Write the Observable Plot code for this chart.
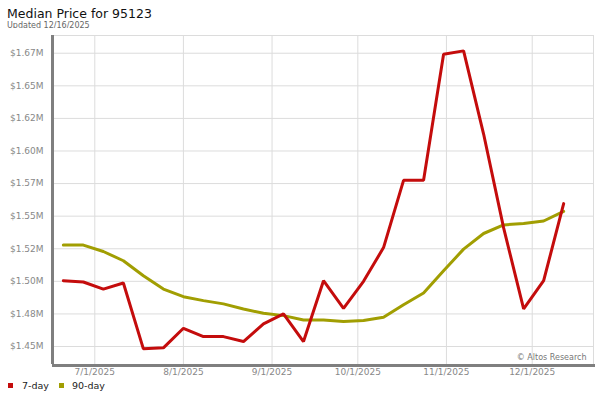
<!DOCTYPE html>
<html><head><meta charset="utf-8">
<script src="https://cdn.jsdelivr.net/npm/d3@7"></script>
<script src="https://cdn.jsdelivr.net/npm/@observablehq/plot@0.6"></script>
<style>
body{margin:0;background:#fff;font-family:"DejaVu Sans",sans-serif;width:600px;height:400px;overflow:hidden;position:relative}
#title{position:absolute;left:7px;top:8px;font-size:12.5px;line-height:12.5px;color:#111;white-space:nowrap}
#sub{position:absolute;left:7px;top:22px;font-size:8px;line-height:8px;color:#666;white-space:nowrap}
#chart{position:absolute;left:0;top:28px}
#legend{position:absolute;left:0;top:380px;width:600px;height:14px;font-size:9.5px;color:#222}
.sw{position:absolute;top:3px;width:5px;height:5px}
.lb{position:absolute;top:0;line-height:12px;white-space:nowrap}
</style></head>
<body>
<div id="title">Median Price for 95123</div>
<div id="sub">Updated 12/16/2025</div>
<div id="chart"></div>
<div id="legend"></div>
<script>
const dates = ["2025-06-20","2025-06-27","2025-07-04","2025-07-11","2025-07-18","2025-07-25",
  "2025-08-01","2025-08-08","2025-08-15","2025-08-22","2025-08-29","2025-09-05","2025-09-12",
  "2025-09-19","2025-09-26","2025-10-03","2025-10-10","2025-10-17","2025-10-24","2025-10-31",
  "2025-11-07","2025-11-14","2025-11-21","2025-11-28","2025-12-05","2025-12-12"];
const sevenDay = [1500500,1499500,1494000,1498700,1448200,1449000,1464000,1457600,1457600,1453800,
  1467400,1475000,1453800,1500500,1479300,1500000,1525900,1577500,1577500,1674200,1676800,
  1613000,1541000,1478800,1500500,1559600];
const ninetyDay = [1527800,1527800,1522900,1515800,1504300,1494100,1488200,1485200,1482700,1478800,
  1475500,1473700,1470400,1470400,1469100,1469900,1472400,1482100,1491100,1508100,1524700,
  1536700,1543300,1544300,1546300,1553700];
const seriesNames = ["7-day","90-day"];
const seriesColors = ["#c40c0c","#a19e02"];
const xTicks = ["2025-07-01","2025-08-01","2025-09-01","2025-10-01","2025-11-01","2025-12-01"];
const yTicks = [1450000,1475000,1500000,1525000,1550000,1575000,1600000,1625000,1650000,1675000];
const yTickLabels = ["$1.45M","$1.48M","$1.50M","$1.52M","$1.55M","$1.57M","$1.60M","$1.62M","$1.65M","$1.67M"];
const watermark = "© Altos Research";

const rows = dates.map((d,i)=>({date:new Date(d), seven:sevenDay[i], ninety:ninetyDay[i]}));
const xDomain = [new Date("2025-06-16T05:00:00Z"), new Date("2025-12-22T10:30:00Z")];
const yDomain = [1436200, 1688600];
const yLabelMap = new Map(yTicks.map((v,i)=>[v,yTickLabels[i]]));
const fmt = d3.utcFormat("%-m/%-d/%Y");

const chart = Plot.plot({
  width: 600, height: 352,
  marginTop: 7, marginBottom: 16, marginLeft: 52, marginRight: 7,
  style: {fontFamily: "DejaVu Sans, sans-serif", fontSize: "9px", color: "#888", background: "white"},
  x: {type: "utc", domain: xDomain, ticks: xTicks.map(d=>new Date(d)), tickFormat: fmt, tickSize: 0, tickPadding: 4, label: null},
  y: {domain: yDomain, ticks: yTicks, tickFormat: d=>yLabelMap.get(d), tickSize: 0, tickPadding: 9, label: null},
  marks: [
    Plot.gridY(yTicks, {stroke: "#dcdcdc", strokeOpacity: 1}),
    Plot.gridX(xTicks.map(d=>new Date(d)), {stroke: "#dcdcdc", strokeOpacity: 1}),
    Plot.frame({stroke: "#dcdcdc"}),
    Plot.lineY(rows, {x: "date", y: "ninety", stroke: seriesColors[1], strokeWidth: 3, strokeLinejoin: "miter"}),
    Plot.lineY(rows, {x: "date", y: "seven", stroke: seriesColors[0], strokeWidth: 3, strokeLinejoin: "miter"}),
    Plot.ruleY([yDomain[0]], {stroke: "#7f7f7f", strokeWidth: 3, dy: 1, insetRight: -2}),
    Plot.ruleX([xDomain[0]], {stroke: "#7f7f7f", strokeWidth: 3, dx: 0}),
    Plot.text([watermark], {frameAnchor: "bottom-right", dx: -7, dy: -5, fontSize: 8, fill: "#777"})
  ]
});
document.getElementById("chart").appendChild(chart);

const legend = document.getElementById("legend");
const swX = [8, 59], lbX = [22, 72];
seriesNames.forEach((n,i)=>{
  const s = document.createElement("div"); s.className="sw"; s.style.left=swX[i]+"px"; s.style.background=seriesColors[i]; legend.appendChild(s);
  const l = document.createElement("div"); l.className="lb"; l.style.left=lbX[i]+"px"; l.textContent=n; legend.appendChild(l);
});
</script>
</body></html>
